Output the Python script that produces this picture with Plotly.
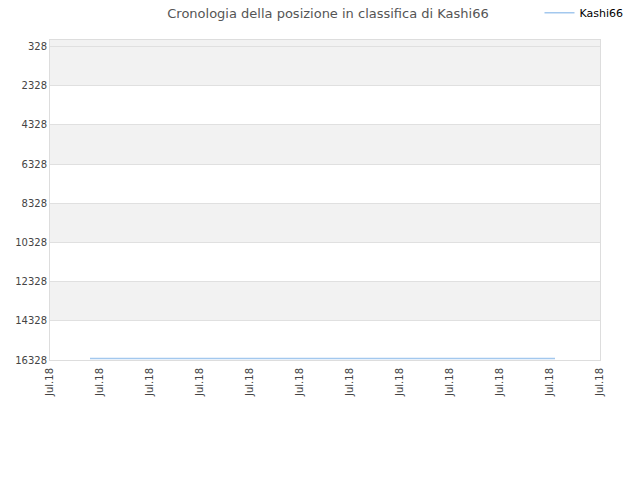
import plotly.graph_objects as go

# Rank history (lower number = better); x positions are tick slots
player = "Kashi66"
x_pos = [0.8, 2.0, 3.0, 4.0, 5.0, 6.0, 7.0, 8.0, 9.0, 10.1]
ranks = [16250, 16250, 16250, 16250, 16250, 16250, 16250, 16250, 16250, 16250]

tick_pos = list(range(12))
tick_text = ["Jul.18"] * 12
y_ticks = [328, 2328, 4328, 6328, 8328, 10328, 12328, 14328, 16328]
y_labels = [str(v) for v in y_ticks]

fig = go.Figure()

fig.add_trace(go.Scatter(
    x=x_pos,
    y=ranks,
    mode="lines",
    line=dict(color="#a3c8ee", width=1.5),
    name=player,
))

# alternating bands behind the plot
shapes = [dict(type="rect", xref="paper", yref="y", x0=0, x1=1, y0=0, y1=y_ticks[0],
               fillcolor="#f2f2f2", line_width=0, layer="below")]
for i in range(0, len(y_ticks) - 1, 2):
    shapes.append(dict(type="rect", xref="paper", yref="y", x0=0, x1=1,
                       y0=y_ticks[i], y1=y_ticks[i + 1],
                       fillcolor="#f2f2f2", line_width=0, layer="below"))

fig.update_layout(
    width=640,
    height=480,
    margin=dict(l=42, r=48, t=32, b=128),
    paper_bgcolor="white",
    plot_bgcolor="white",
    font=dict(family="DejaVu Sans", size=11, color="#444"),
    title=dict(text="Cronologia della posizione in classifica di Kashi66",
               x=0.5, xanchor="center", y=1.0, yanchor="top", pad=dict(t=1),
               font=dict(size=13, color="#555")),
    showlegend=True,
    legend=dict(x=0.89, xanchor="left", y=0.99, yref="container", yanchor="middle",
                orientation="h", font=dict(size=11, color="#000"),
                bgcolor="rgba(0,0,0,0)"),
    shapes=shapes,
    xaxis=dict(
        range=[0, 11],
        tickvals=tick_pos,
        ticktext=tick_text,
        tickangle=-90,
        ticks="outside",
        ticklen=3,
        tickcolor="white",
        showgrid=False,
        zeroline=False,
        showline=True,
        linecolor="#dddddd",
        mirror=True,
        automargin=False,
        tickfont=dict(size=10, color="#444"),
    ),
    yaxis=dict(
        range=[16328, 0],
        tickvals=y_ticks,
        ticktext=y_labels,
        showgrid=True,
        gridcolor="#e0e0e0",
        zeroline=False,
        showline=True,
        linecolor="#dddddd",
        mirror=True,
        automargin=False,
        tickfont=dict(size=10, color="#444"),
    ),
)

fig.write_html("out.html")
